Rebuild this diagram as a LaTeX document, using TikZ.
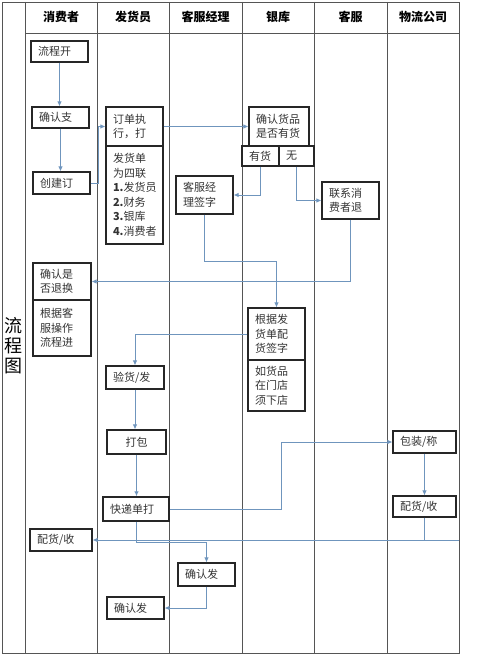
\documentclass[tikz,border=0pt]{standalone}
\usepackage{fontspec}
\setmainfont{Noto Sans CJK SC}
\usetikzlibrary{arrows.meta, positioning, calc}
\definecolor{flowblue}{HTML}{6F95BD}
\definecolor{lanegray}{HTML}{555555}

\begin{document}
\begin{tikzpicture}[
    x=1pt, y=-1pt,
    box/.style={draw=black!85, line width=1.1pt, inner xsep=7pt, inner ysep=0pt, align=left,
        minimum width=#1, text width=#1-14pt, font=\fontsize{11}{14.5}\selectfont, text=black!80},
    box/.default=57pt,
    head/.style={font=\bfseries\fontsize{12}{14}\selectfont},
    link/.style={draw=flowblue, line width=0.9pt},
    arr/.style={link, -{Latex[length=5pt,width=4.5pt]}},
    lane/.style={draw=lanegray, line width=0.9pt}
]
    \useasboundingbox (0,0) rectangle (500,655);

    % --- Swimlane frame ---
    \draw[lane] (2,2) rectangle (459,653);
    \draw[lane] (25,33) -- (459,33);
    \foreach \x in {25,97,169,242,314,387}
        \draw[lane] (\x,2) -- (\x,653);

    % --- Lane headers ---
    \node[head] (hbuyer) at (61,17) {消费者};
    \node[head] (hship) at (133,17) {发货员};
    \node[head] (hmgr) at (205.5,17) {客服经理};
    \node[head] (hbank) at (278,17) {银库};
    \node[head] (hserv) at (350.5,17) {客服};
    \node[head] (hlog) at (423,17) {物流公司};
    \node[align=center, font=\fontsize{18}{20}\selectfont] (title) at (13.5,346) {流\\程\\图};

    % --- Consumer ---
    \node[box, minimum height=21pt] (start) at (59.5,51.5) {流程开};
    \node[box, minimum height=21pt] (pay) at (60.5,117.5) {确认支};
    \node[box, minimum height=22pt] (order) at (61.5,183) {创建订};
    \node[box=58pt, minimum height=37pt] (return) at (62,281.5) {确认是\\否退换};
    \node[box=58pt, minimum height=56pt] (follow) at (62,328) {根据客\\服操作\\流程进};
    \node[box=62pt, minimum height=22pt] (recv) at (61,540) {配货/收};

    % --- Shipper ---
    \node[box, minimum height=39pt] (exec) at (134.5,126.5) {订单执\\行，打};
    \node[box, minimum height=98pt] (slip) at (134.5,195) {发货单\\为四联\\\textbf{1.}发货员\\\textbf{2.}财务\\\textbf{3.}银库\\\textbf{4.}消费者};
    \node[box=58pt, minimum height=23pt] (check) at (135,377.5) {验货/发};
    \node[box=59pt, minimum height=24pt, align=center] (pack) at (136.5,442) {打包};
    \node[box=66pt, minimum height=24pt, line width=1.4pt] (express) at (136,509) {快递单打};
    \node[box, minimum height=22pt] (done) at (135.5,608) {确认发};

    % --- Service manager ---
    \node[box, minimum height=38pt] (sign) at (204.5,195) {客服经\\理签字};
    \node[box, minimum height=23pt] (mconf) at (206.5,574.5) {确认发};

    % --- Warehouse ---
    \node[box=60pt, minimum height=39pt] (stock) at (279,126.5) {确认货品\\是否有货};
    \node[box=37pt, minimum height=20pt, inner xsep=5pt] (yes) at (260.5,156) {有货};
    \node[box=35pt, minimum height=20pt, inner xsep=5pt] (no) at (296.5,156) {无};
    \node[box, minimum height=52pt] (pick) at (276.5,334) {根据发\\货单配\\货签字};
    \node[box, minimum height=51pt] (store) at (276.5,385.5) {如货品\\在门店\\须下店};

    % --- Customer service ---
    \node[box, minimum height=37pt] (contact) at (350.5,200.5) {联系消\\费者退};

    % --- Logistics ---
    \node[box=63pt, minimum height=22pt] (weigh) at (424.5,442) {包装/称};
    \node[box=63pt, minimum height=21pt] (lrecv) at (424.5,506.5) {配货/收};
    \coordinate (rend) at (459,540);

    % --- Connectors ---
    \draw[arr] (start.south) -- (start.south |- pay.north);
    \draw[arr] (pay.south) -- (pay.south |- order.north);
    \draw[arr] (order.east) -- ++(8,0) |- (exec.west);
    \draw[arr] (exec.east) -- (stock.west);
    \draw[arr] (yes.south) |- (sign.east);
    \draw[arr] (no.south) |- (contact.west);
    \draw[arr] (contact.south) |- (return.east);
    \draw[arr] (sign.south) -- ++(0,47) -| (pick.north);
    \draw[arr] (pick.west) -| (check.north);
    \draw[arr] (check.south) -- (check.south |- pack.north);
    \draw[arr] (pack.south) -- (pack.south |- express.north);
    \draw[arr] (express.east) -- ++(112,0) |- (weigh.west);
    \draw[arr] (weigh.south) -- (lrecv.north);
    \draw[arr] (lrecv.south) |- (recv.east);
    \draw[link] (lrecv.south |- recv.east) -- (rend);
    \draw[arr] (express.south) -- ++(0,21) -| (mconf.north);
    \draw[arr] (mconf.south) |- (done.east);
\end{tikzpicture}
\end{document}
